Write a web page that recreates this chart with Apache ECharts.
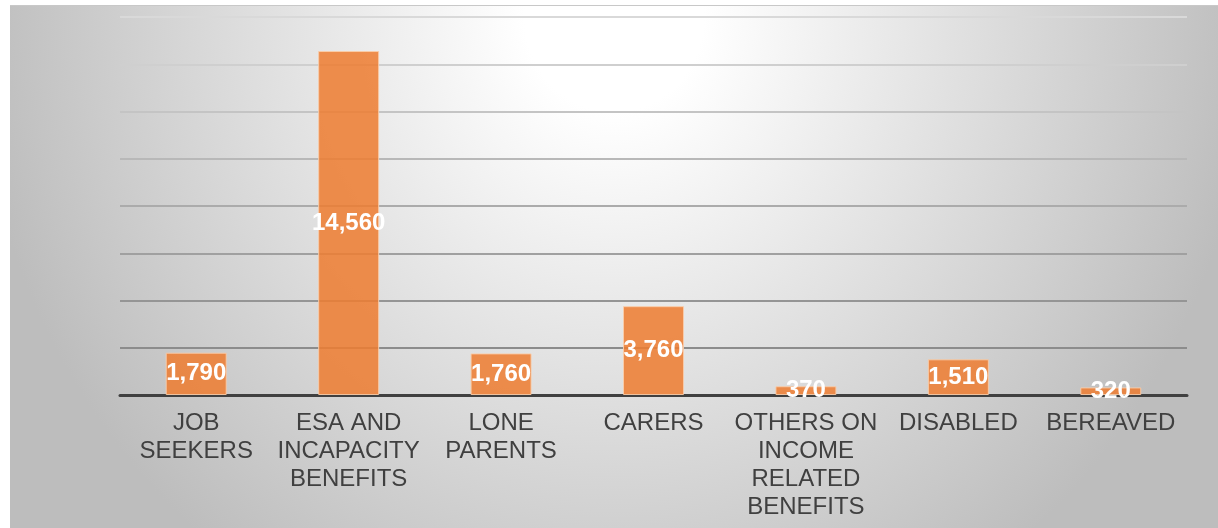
<!DOCTYPE html>
<html>
<head>
<meta charset="utf-8">
<script src="https://cdn.jsdelivr.net/npm/echarts@6/dist/echarts.min.js"></script>
<style>
  html, body { margin: 0; padding: 0; background: #ffffff; }
  #wrap { position: relative; width: 1218px; height: 528px; overflow: hidden; }
  #panel {
    position: absolute; left: 10px; top: 5px; width: 1208px; height: 523px;
    border-top: 1px solid #c8c8c8;
    background: radial-gradient(ellipse 640px 680px at 50% 2%, #ffffff 0%, #ffffff 14%, #bdbdbd 100%);
  }
  #chart { position: absolute; left: 0; top: 0; width: 1218px; height: 528px; }
</style>
</head>
<body>
<div id="wrap">
  <div id="panel"></div>
  <div id="chart"></div>
</div>
<script>
// Claimant groups and their counts
const categories = [
  'JOB\nSEEKERS',
  'ESA AND\nINCAPACITY\nBENEFITS',
  'LONE\nPARENTS',
  'CARERS',
  'OTHERS ON\nINCOME\nRELATED\nBENEFITS',
  'DISABLED',
  'BEREAVED'
];
const claimants = [1790, 14560, 1760, 3760, 370, 1510, 320];

// Value axis range (gridlines every 2,000)
const axisMin = 0;
const axisMax = 16000;
const axisStep = 2000;

// Gridline shades from the baseline upwards
const gridShades = ['#8a8a8a', '#8c8c8c', '#959595', '#a0a0a0', '#ababab', '#b8b8b8', '#c4c4c4', '#cfcfcf', '#d9d9d9'];

const chart = echarts.init(document.getElementById('chart'), null, { renderer: 'canvas' });

chart.setOption({
  backgroundColor: 'transparent',
  animation: false,
  grid: { left: 120, right: 31, top: 17, bottom: 133 },
  xAxis: {
    type: 'category',
    data: categories,
    axisLine: { show: true, lineStyle: { color: '#404040', width: 3 } },
    axisTick: { show: false },
    axisLabel: {
      color: '#404040',
      fontFamily: 'Liberation Sans, Arial, sans-serif',
      fontSize: 24,
      lineHeight: 28,
      margin: 14,
      interval: 0
    }
  },
  yAxis: {
    type: 'value',
    min: axisMin,
    max: axisMax,
    interval: axisStep,
    axisLine: { show: false },
    axisTick: { show: false },
    axisLabel: { show: false },
    splitLine: { show: true, lineStyle: { color: gridShades, width: 2 } }
  },
  series: [{
    type: 'bar',
    data: claimants,
    barWidth: '40%',
    z: 2,
    itemStyle: {
      color: 'rgba(237,125,49,0.86)',
      borderColor: 'rgba(250,205,170,0.9)',
      borderWidth: 1
    },
    label: {
      show: true,
      position: 'inside',
      color: '#ffffff',
      fontFamily: 'Liberation Sans, Arial, sans-serif',
      fontWeight: 'bold',
      fontSize: 24,
      formatter: p => p.value.toLocaleString('en-US')
    }
  }]
});
</script>
</body>
</html>
